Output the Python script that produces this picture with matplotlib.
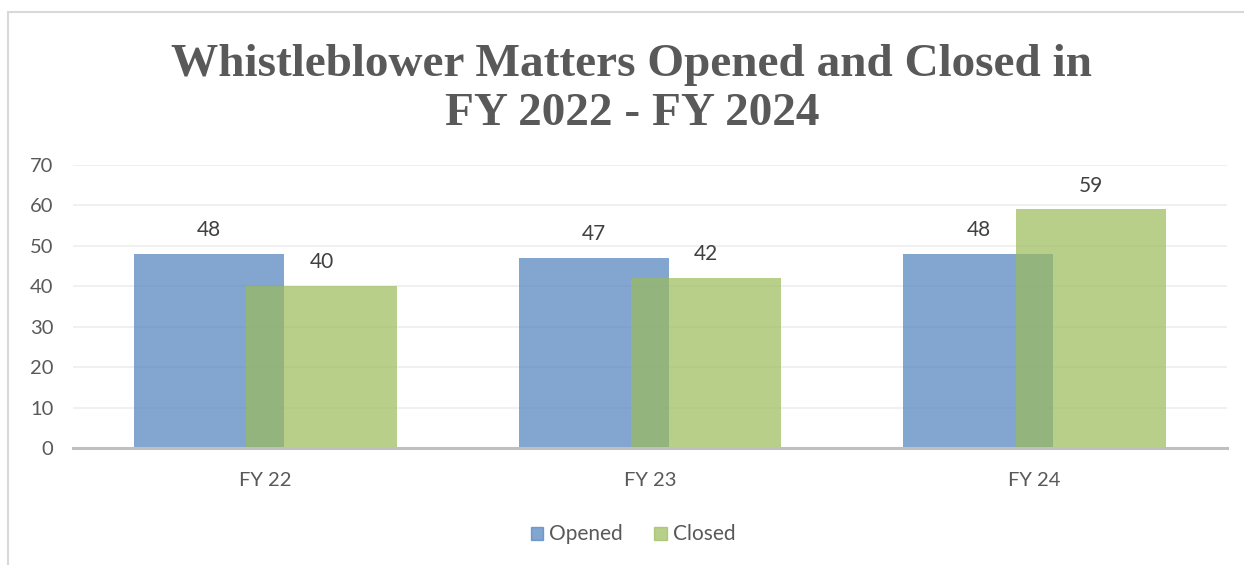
import matplotlib.pyplot as plt
import matplotlib.patches as mpatches
import numpy as np

categories = ['FY 22', 'FY 23', 'FY 24']
opened = [48, 47, 48]
closed = [40, 42, 59]
series_names = ['Opened', 'Closed']
title = 'Whistleblower Matters Opened and Closed in\nFY 2022 - FY 2024'

plt.rcParams['font.family'] = ['Lato', 'DejaVu Sans']

fig = plt.figure(figsize=(12.44, 5.65), dpi=100)
ax = fig.add_axes([0.0587, 0.2071, 0.9276, 0.501])

x = np.arange(len(categories))
width = 0.39
offset = 0.146
blue = '#4F81BD'
green = '#9BBB59'

b1 = ax.bar(x - offset, opened, width, color=blue, alpha=0.7, label=series_names[0], zorder=2)
b2 = ax.bar(x + offset, closed, width, color=green, alpha=0.7, label=series_names[1], zorder=3)

for rects in (b1, b2):
    ax.bar_label(rects, padding=10, fontsize=15, color='#404040')

ax.set_xlim(-0.5, len(categories) - 0.5)
ax.set_ylim(0, 70)
ax.set_yticks(range(0, 71, 10))
ax.set_xticks(x)
ax.set_xticklabels(categories)
ax.tick_params(axis='y', length=0, pad=14, labelsize=14.5, labelcolor='#595959')
ax.tick_params(axis='x', length=0, pad=17, labelsize=14.5, labelcolor='#595959')
ax.grid(axis='y', color='#EDEDED', linewidth=1.2, zorder=0)
ax.set_axisbelow(True)
for s in ['top', 'right', 'left']:
    ax.spines[s].set_visible(False)
ax.spines['bottom'].set_color('#BFBFBF')
ax.spines['bottom'].set_linewidth(2.2)
ax.spines['bottom'].set_zorder(4)

fig.text(0.508, 0.922, title, ha='center', va='top', fontsize=34,
         family='Liberation Serif', fontweight='bold', color='#595959',
         linespacing=1.22)

handles = [mpatches.Patch(color=blue, alpha=0.7), mpatches.Patch(color=green, alpha=0.7)]
fig.legend(handles, series_names, loc='center', bbox_to_anchor=(0.509, 0.054), ncol=2,
           frameon=False, fontsize=15, labelcolor='#595959', handlelength=0.6,
           handleheight=0.6, handletextpad=0.3, columnspacing=1.5)

border = mpatches.Rectangle((8 / 1244, -0.1), 1.1, 0.1 + (565 - 12) / 565, transform=fig.transFigure,
                            fill=False, edgecolor='#D9D9D9', linewidth=1.5)
fig.add_artist(border)

fig.savefig('out.png', dpi=100)
